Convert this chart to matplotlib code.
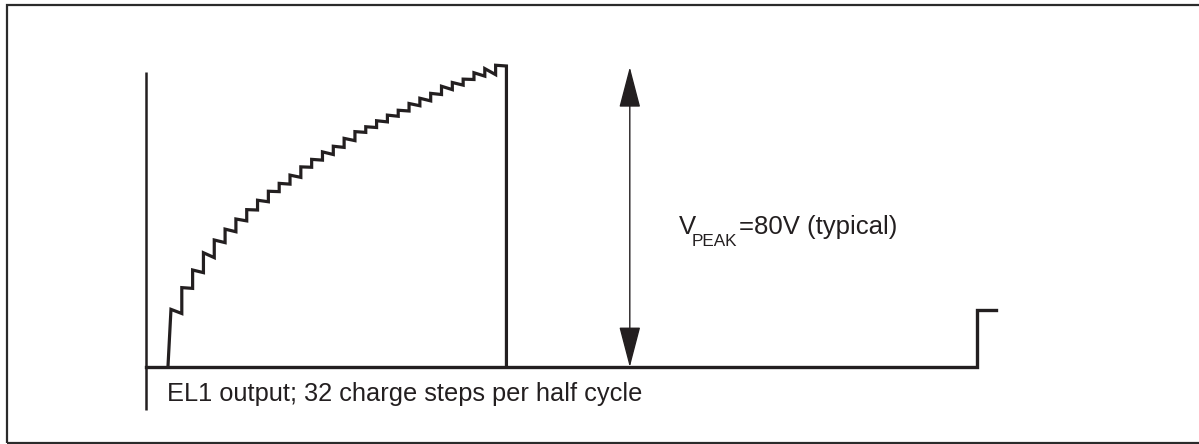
import numpy as np
import matplotlib
matplotlib.use("Agg")
import matplotlib.pyplot as plt
from matplotlib.patches import FancyArrowPatch, Rectangle

plt.rcParams["font.family"] = ["Liberation Sans", "DejaVu Sans"]

# EL1 output waveform (volts)
# level right after each charge step, and level just before the next one (droop)
step_top = [15.4, 21.2, 25.9, 30.5, 33.9, 36.8, 39.5, 42.0, 44.5, 46.9, 49.0,
            51.2, 53.4, 55.4, 57.4, 58.9, 61.0, 62.8, 64.1, 65.7, 67.2, 68.5,
            70.3, 71.7, 73.0, 74.9, 75.9, 76.8, 78.5, 79.6, 80.5]
step_bottom = [14.3, 21.0, 25.2, 29.2, 33.2, 36.1, 39.0, 41.9, 44.1, 46.8, 48.8,
               50.6, 53.3, 55.2, 56.7, 58.6, 60.4, 62.6, 63.9, 65.4, 66.9, 68.3,
               69.7, 71.0, 72.7, 74.0, 75.2, 76.7, 77.6, 78.0, 80.3]
v_peak = 80            # V, typical
next_level = 15.2      # start of the next half cycle (right edge)

peak_main = "V"
peak_sub = "PEAK"
peak_rest = "=80V (typical)"
caption = "EL1 output; 32 charge steps per half cycle"

ink = "#231f20"

# build the staircase path: time in charge-step periods
xs, ys = [-0.28, 0.0], [0.0, step_top[0]]
for k, (top, bot) in enumerate(zip(step_top, step_bottom)):
    if k > 0:
        xs.append(k)
        ys.append(top)
    xs.append(k + 1)
    ys.append(bot)
xs.append(len(step_top))
ys.append(0.0)

fig = plt.figure(figsize=(11.99, 4.44), dpi=100)
ax = fig.add_axes([0, 0, 1, 1])
ax.set_xlim(-15.80, 95.0)
ax.set_ylim(-20.5, 97.9)
ax.axis("off")

# outer frame
fig.patches.append(Rectangle((7 / 1199, 1.5 / 444), 1.2, 1 - 7 / 444,
                             transform=fig.transFigure, fill=False,
                             edgecolor="#2b2b2b", linewidth=1.6))

# axes of the sketch
ax.plot([-2.31, -2.31], [-11.5, 78.7], color=ink, lw=1.8, solid_capstyle="butt")
ax.plot([-2.31, 74.5, 74.5, 76.2], [0, 0, next_level, next_level],
        color=ink, lw=2.4, solid_joinstyle="miter")

# waveform
ax.plot(xs, ys, color=ink, lw=2.3, solid_joinstyle="miter")

# peak arrow
arrow = FancyArrowPatch((42.4, 0), (42.4, v_peak), arrowstyle="<|-|>",
                        mutation_scale=1, shrinkA=0, shrinkB=0,
                        color=ink, lw=1.0)
arrow.set_arrowstyle("<|-|>", head_length=26, head_width=6.8)
ax.add_patch(arrow)

ax.text(46.95, 35.4, peak_main, fontsize=18.5, color=ink, va="baseline", ha="left")
ax.text(48.1, 32.4, peak_sub, fontsize=12.3, color=ink, va="baseline", ha="left")
ax.text(52.45, 35.4, peak_rest, fontsize=18.5, color=ink, va="baseline", ha="left")

ax.text(-0.35, -9.0, caption, fontsize=18.3, color=ink, va="baseline", ha="left")

fig.savefig("out.png", dpi=100)
